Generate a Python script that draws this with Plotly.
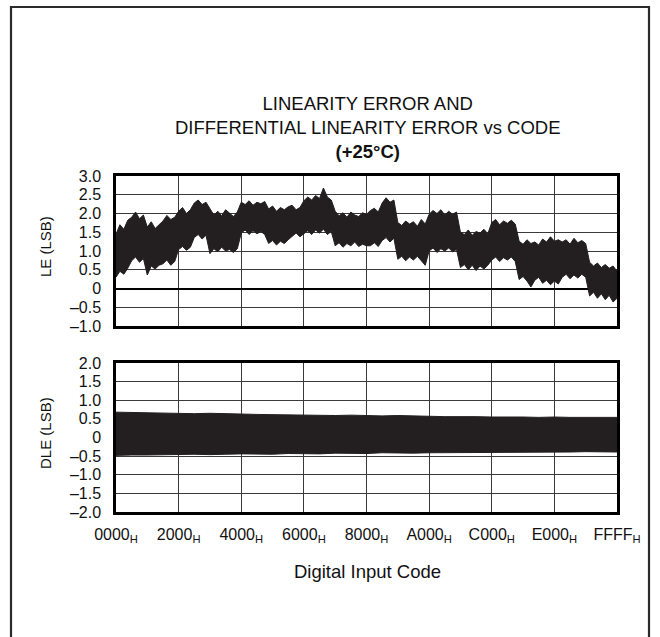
import plotly.graph_objects as go

# ---------------- data ----------------
LE_CODES = [0, 512, 1024, 1536, 2048, 2560, 3072, 3584, 4096, 4608, 5120, 5632, 6144, 6656, 7168, 7680,
            8192, 8704, 9216, 9728, 10240, 10752, 11264, 11776, 12288, 12800, 13312, 13824, 14336, 14848, 15360, 15872,
            16384, 16896, 17408, 17920, 18432, 18944, 19456, 19968, 20480, 20992, 21504, 22016, 22528, 23040, 23552, 24064,
            24576, 25088, 25600, 26112, 26624, 27136, 27648, 28160, 28672, 29184, 29696, 30208, 30720, 31232, 31744, 32256,
            32768, 33280, 33792, 34304, 34816, 35328, 35840, 36352, 36864, 37376, 37888, 38400, 38912, 39424, 39936, 40448,
            40960, 41472, 41984, 42496, 43008, 43520, 44032, 44544, 45056, 45568, 46080, 46592, 47104, 47616, 48128, 48640,
            49152, 49664, 50176, 50688, 51200, 51712, 52224, 52736, 53248, 53760, 54272, 54784, 55296, 55808, 56320, 56832,
            57344, 57856, 58368, 58880, 59392, 59904, 60416, 60928, 61440, 61952, 62464, 62976, 63488, 64000, 64512, 65024,
            65535]
LE_UPPER = [1.45, 1.70, 1.58, 1.82, 1.90, 2.04, 1.86, 1.96, 1.64, 1.78, 1.60, 1.70, 1.80, 1.95, 1.84, 1.90,
            2.06, 2.16, 2.00, 2.10, 2.28, 2.36, 2.24, 2.30, 2.12, 1.96, 2.06, 1.94, 2.10, 2.02, 1.92, 2.04,
            2.30, 2.24, 2.34, 2.22, 2.30, 2.26, 2.32, 2.12, 2.20, 2.06, 2.16, 2.10, 2.18, 2.22, 2.10, 2.16,
            2.34, 2.44, 2.36, 2.48, 2.40, 2.68, 2.44, 2.36, 2.06, 1.94, 2.02, 1.90, 2.04, 1.96, 1.92, 2.02,
            1.98, 2.08, 2.14, 2.04, 2.28, 2.42, 2.30, 2.36, 1.76, 1.68, 1.80, 1.72, 1.78, 1.66, 1.84, 1.72,
            1.98, 2.08, 2.00, 2.10, 1.96, 2.06, 1.98, 2.04, 1.50, 1.44, 1.56, 1.42, 1.52, 1.48, 1.58, 1.46,
            1.76, 1.84, 1.70, 1.80, 1.74, 1.82, 1.72, 1.26, 1.18, 1.30, 1.20, 1.24, 1.16, 1.32, 1.24, 1.38,
            1.26, 1.30, 1.24, 1.30, 1.18, 1.34, 1.22, 1.28, 1.20, 0.70, 0.60, 0.68, 0.56, 0.64, 0.54, 0.60,
            0.46]
LE_LOWER = [0.30, 0.46, 0.38, 0.54, 0.74, 0.84, 0.70, 0.80, 0.36, 0.60, 0.52, 0.62, 0.66, 0.76, 0.62, 0.72,
            1.04, 1.12, 1.02, 1.10, 1.36, 1.44, 1.32, 1.42, 0.93, 1.06, 0.98, 1.10, 1.00, 1.04, 0.96, 1.06,
            1.48, 1.56, 1.44, 1.54, 1.46, 1.52, 1.44, 1.20, 1.28, 1.16, 1.26, 1.20, 1.30, 1.40, 1.48, 1.38,
            1.46, 1.54, 1.44, 1.56, 1.48, 1.58, 1.44, 1.52, 1.14, 1.22, 1.10, 1.20, 1.14, 1.24, 1.12, 1.18,
            1.14, 1.14, 1.22, 1.12, 1.28, 1.36, 1.24, 1.34, 0.78, 0.86, 0.74, 0.84, 0.76, 0.86, 0.74, 0.62,
            1.00, 1.08, 0.96, 1.06, 1.00, 1.08, 0.98, 1.04, 0.56, 0.64, 0.50, 0.62, 0.48, 0.60, 0.52, 0.62,
            0.76, 0.84, 0.72, 0.82, 0.76, 0.84, 0.72, 0.24, 0.32, 0.20, 0.04, 0.22, 0.30, 0.14, 0.22, 0.10,
            0.20, 0.12, 0.30, 0.38, 0.26, 0.36, 0.28, 0.38, 0.30, -0.20, -0.10, -0.26, -0.14, -0.30, -0.18, -0.36,
            -0.26]

DLE_CODES = [0, 2048, 4096, 6144, 8192, 10240, 12288, 14336, 16384, 18432, 20480, 22528, 24576, 26624, 28672, 30720,
             32768, 34816, 36864, 38912, 40960, 43008, 45056, 47104, 49152, 51200, 53248, 55296, 57344, 59392, 61440,
             63488, 65535]
DLE_UPPER = [0.68, 0.67, 0.66, 0.67, 0.65, 0.64, 0.65, 0.63, 0.63, 0.62, 0.61, 0.62, 0.60, 0.60, 0.59, 0.60,
             0.58, 0.58, 0.59, 0.57, 0.57, 0.56, 0.57, 0.56, 0.55, 0.56, 0.55, 0.54, 0.55, 0.54, 0.54, 0.53, 0.54]
DLE_LOWER = [-0.48, -0.47, -0.47, -0.46, -0.46, -0.45, -0.46, -0.45, -0.44, -0.44, -0.45, -0.43, -0.43, -0.44,
             -0.42, -0.42, -0.43, -0.41, -0.41, -0.42, -0.41, -0.40, -0.40, -0.41, -0.40, -0.39, -0.39, -0.40,
             -0.39, -0.39, -0.38, -0.38, -0.39]

X_TICKS = [0, 8192, 16384, 24576, 32768, 40960, 49152, 57344, 65535]
X_LABELS = ["0000", "2000", "4000", "6000", "8000", "A000", "C000", "E000", "FFFF"]
LE_TICKS = [3.0, 2.5, 2.0, 1.5, 1.0, 0.5, 0, -0.5, -1.0]
LE_LABELS = ["3.0", "2.5", "2.0", "1.5", "1.0", "0.5", "0", "\u20130.5", "\u20131.0"]
DLE_TICKS = [2.0, 1.5, 1.0, 0.5, 0, -0.5, -1.0, -1.5, -2.0]
DLE_LABELS = ["2.0", "1.5", "1.0", "0.5", "0", "\u20130.5", "\u20131.0", "\u20131.5", "\u20132.0"]

# ---------------- figure ----------------
W, H = 660, 637
FONT = "Liberation Sans, Arial, Helvetica, sans-serif"
BAND = "#231f20"

fig = go.Figure()
fig.add_trace(go.Scatter(
    x=LE_CODES + LE_CODES[::-1], y=LE_UPPER + LE_LOWER[::-1],
    fill="toself", fillcolor=BAND, mode="lines",
    line=dict(color=BAND, width=1), xaxis="x", yaxis="y",
    hoverinfo="skip", showlegend=False))
fig.add_trace(go.Scatter(
    x=DLE_CODES + DLE_CODES[::-1], y=DLE_UPPER + DLE_LOWER[::-1],
    fill="toself", fillcolor=BAND, mode="lines",
    line=dict(color=BAND, width=1), xaxis="x2", yaxis="y2",
    hoverinfo="skip", showlegend=False))

x_dom = [116 / W, 617 / W]
axis_common = dict(showline=True, linecolor="black", linewidth=2.5, mirror=True,
                   showgrid=True, gridcolor="#3a3a3a", gridwidth=1, ticks="", automargin=False)

fig.update_layout(
    width=W, height=H, autosize=False,
    margin=dict(l=0, r=0, t=0, b=0, pad=0, autoexpand=False),
    paper_bgcolor="white", plot_bgcolor="white", showlegend=False,
    font=dict(family=FONT, color="#111"),
    xaxis=dict(domain=x_dom, range=[0, 65535], tickvals=X_TICKS, showticklabels=False,
               anchor="y", zeroline=False, **axis_common),
    yaxis=dict(domain=[1 - 326 / H, 1 - 176 / H], range=[-1.0, 3.0], tickvals=LE_TICKS,
               ticktext=LE_LABELS, anchor="x", zeroline=True, zerolinecolor="black",
               zerolinewidth=1.5, ticklabelstandoff=9,
               tickfont=dict(family=FONT, size=16, color="#111"), **axis_common),
    xaxis2=dict(domain=x_dom, range=[0, 65535], tickvals=X_TICKS,
                ticktext=[l + "<sub>H</sub>" for l in X_LABELS], anchor="y2",
                zeroline=False, ticklabelstandoff=6,
                tickfont=dict(family=FONT, size=16, color="#111"), **axis_common),
    yaxis2=dict(domain=[1 - 512 / H, 1 - 363 / H], range=[-2.0, 2.0], tickvals=DLE_TICKS,
                ticktext=DLE_LABELS, anchor="x2", zeroline=True, zerolinecolor="black",
                zerolinewidth=1.2, ticklabelstandoff=9,
                tickfont=dict(family=FONT, size=16, color="#111"), **axis_common),
)

fig.add_shape(type="rect", xref="paper", yref="paper",
              x0=11 / W, x1=649 / W, y0=-0.02, y1=1 - 7 / H,
              line=dict(color="#2b2b2b", width=2.2), fillcolor="rgba(0,0,0,0)", layer="above")

fig.add_annotation(xref="paper", yref="paper", x=367 / W, y=1 - 128 / H,
                   text="LINEARITY ERROR AND<br>DIFFERENTIAL LINEARITY ERROR vs CODE<br><b>(+25\u00b0C)</b>",
                   showarrow=False, xanchor="center", yanchor="middle", align="center",
                   font=dict(family=FONT, size=18.5, color="#111"))
fig.add_annotation(xref="paper", yref="paper", x=45 / W, y=1 - 247 / H, text="LE (LSB)",
                   textangle=-90, showarrow=False, xanchor="center", yanchor="middle",
                   font=dict(family=FONT, size=15, color="#111"))
fig.add_annotation(xref="paper", yref="paper", x=45 / W, y=1 - 433 / H, text="DLE (LSB)",
                   textangle=-90, showarrow=False, xanchor="center", yanchor="middle",
                   font=dict(family=FONT, size=15, color="#111"))
fig.add_annotation(xref="paper", yref="paper", x=367 / W, y=1 - 571 / H, text="Digital Input Code",
                   showarrow=False, xanchor="center", yanchor="middle",
                   font=dict(family=FONT, size=18.5, color="#111"))

page_fix = "document.body.style.margin='0';document.body.style.overflow='hidden';"

fig.write_html("out.html", post_script=page_fix, config={"displayModeBar": False})
